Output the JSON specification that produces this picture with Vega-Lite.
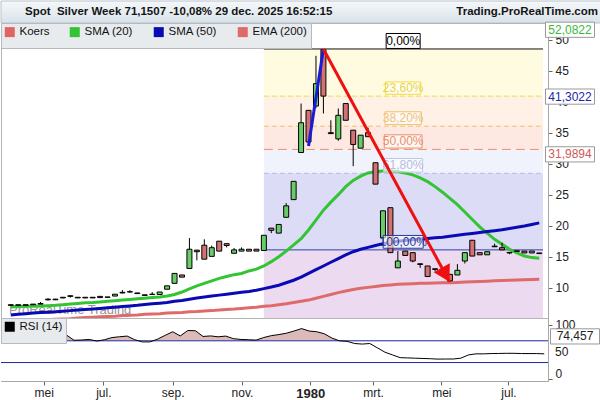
{
  "$schema": "https://vega.github.io/schema/vega-lite/v6.json",
  "padding": 0,
  "spacing": 0,
  "bounds": "flush",
  "background": "white",
  "config": {
    "font": "Liberation Sans",
    "view": {"stroke": null},
    "axis": {"grid": false, "labelFont": "Liberation Sans", "labelFontSize": 12, "labelColor": "#222222", "tickColor": "#666666", "domainColor": "#a8a8a8", "tickSize": 4, "labelOverlap": false},
    "legend": {"labelFont": "Liberation Sans", "labelFontSize": 11.5, "labelColor": "#111111", "padding": 3, "fillColor": "#e8ebee", "strokeColor": "#b4bac0", "symbolType": "square", "symbolSize": 25, "symbolStrokeWidth": 5, "symbolOpacity": 1, "columnPadding": 12, "offset": 0}
  },
  "resolve": {"scale": {"x": "independent", "y": "independent", "color": "independent"}, "legend": {"color": "independent"}},
  "datasets": {
    "header": [
      {"txt": "Spot\u00a0\u00a0Silver Week 71,1507 -10,08% 29 dec. 2025 16:52:15", "side": "left"},
      {"txt": "Trading.ProRealTime.com", "side": "right"}
    ],
    "bands": [
      {"band": "b1", "top": 48.5, "bottom": 40.9},
      {"band": "b2", "top": 40.9, "bottom": 36.05},
      {"band": "b3", "top": 36.05, "bottom": 32.3},
      {"band": "b4", "top": 32.3, "bottom": 28.45},
      {"band": "b5", "top": 28.45, "bottom": 16.1},
      {"band": "b6", "top": 16.1, "bottom": 5.0}
    ],
    "fib": [
      {"label": "0,00%", "level": 48.5},
      {"label": "23,60%", "level": 40.9},
      {"label": "38,20%", "level": 36.05},
      {"label": "50,00%", "level": 32.3},
      {"label": "61,80%", "level": 28.45},
      {"label": "100,00%", "level": 16.1}
    ],
    "tags": [
      {"txt": "52,0822", "v": 52.0822, "who": "s20"},
      {"txt": "41,3022", "v": 41.3022, "who": "s50"},
      {"txt": "31,9894", "v": 31.9894, "who": "e200"}
    ],
    "weeks": [
      {"d": "1979-03-26", "o": 7.25, "h": 7.3, "l": 7.15, "c": 7.15, "rsi": 65.5, "sma20": 6.9, "sma50": 5.6, "ema200": 4.6},
      {"d": "1979-04-02", "o": 7.15, "h": 7.25, "l": 7.15, "c": 7.25, "rsi": 66, "sma20": 6.95, "sma50": 5.7, "ema200": 4.65},
      {"d": "1979-04-09", "o": 7.25, "h": 7.25, "l": 7.15, "c": 7.15, "rsi": 66.5, "sma20": 7.0, "sma50": 5.8, "ema200": 4.7},
      {"d": "1979-04-16", "o": 7.25, "h": 7.35, "l": 7.25, "c": 7.35, "rsi": 67, "sma20": 7.0, "sma50": 5.9, "ema200": 4.75},
      {"d": "1979-04-23", "o": 7.35, "h": 7.7, "l": 7.35, "c": 7.45, "rsi": 70, "sma20": 7.05, "sma50": 6.0, "ema200": 4.8},
      {"d": "1979-04-30", "o": 8.15, "h": 8.3, "l": 7.9, "c": 8.05, "rsi": 74.5, "sma20": 7.1, "sma50": 6.05, "ema200": 4.85},
      {"d": "1979-05-07", "o": 8.05, "h": 8.2, "l": 8.0, "c": 8.15, "rsi": 76, "sma20": 7.15, "sma50": 6.1, "ema200": 4.9},
      {"d": "1979-05-14", "o": 8.45, "h": 8.5, "l": 8.3, "c": 8.35, "rsi": 78, "sma20": 7.25, "sma50": 6.2, "ema200": 4.95},
      {"d": "1979-05-21", "o": 8.6, "h": 8.7, "l": 8.4, "c": 8.7, "rsi": 80.5, "sma20": 7.35, "sma50": 6.3, "ema200": 5.0},
      {"d": "1979-05-28", "o": 8.45, "h": 8.5, "l": 8.35, "c": 8.35, "rsi": 71, "sma20": 7.45, "sma50": 6.4, "ema200": 5.1},
      {"d": "1979-06-04", "o": 8.35, "h": 8.5, "l": 8.3, "c": 8.45, "rsi": 71.5, "sma20": 7.55, "sma50": 6.5, "ema200": 5.2},
      {"d": "1979-06-11", "o": 8.45, "h": 8.45, "l": 8.35, "c": 8.35, "rsi": 72.5, "sma20": 7.6, "sma50": 6.55, "ema200": 5.25},
      {"d": "1979-06-18", "o": 8.6, "h": 8.6, "l": 8.4, "c": 8.4, "rsi": 69.5, "sma20": 7.7, "sma50": 6.65, "ema200": 5.3},
      {"d": "1979-06-25", "o": 8.45, "h": 8.5, "l": 8.45, "c": 8.5, "rsi": 72, "sma20": 7.8, "sma50": 6.75, "ema200": 5.35},
      {"d": "1979-07-02", "o": 8.65, "h": 8.95, "l": 8.65, "c": 8.95, "rsi": 76, "sma20": 7.9, "sma50": 6.85, "ema200": 5.4},
      {"d": "1979-07-09", "o": 9.25, "h": 9.6, "l": 9.1, "c": 9.15, "rsi": 77.5, "sma20": 8.0, "sma50": 6.95, "ema200": 5.5},
      {"d": "1979-07-16", "o": 9.3, "h": 9.6, "l": 9.25, "c": 9.35, "rsi": 78.7, "sma20": 8.1, "sma50": 7.05, "ema200": 5.55},
      {"d": "1979-07-23", "o": 9.15, "h": 9.15, "l": 9.05, "c": 9.05, "rsi": 72, "sma20": 8.2, "sma50": 7.15, "ema200": 5.6},
      {"d": "1979-07-30", "o": 8.85, "h": 8.85, "l": 8.75, "c": 8.75, "rsi": 68, "sma20": 8.3, "sma50": 7.3, "ema200": 5.7},
      {"d": "1979-08-06", "o": 8.9, "h": 9.3, "l": 8.85, "c": 8.95, "rsi": 68, "sma20": 8.4, "sma50": 7.4, "ema200": 5.75},
      {"d": "1979-08-13", "o": 8.9, "h": 9.3, "l": 8.9, "c": 9.3, "rsi": 73, "sma20": 8.5, "sma50": 7.5, "ema200": 5.8},
      {"d": "1979-08-20", "o": 9.75, "h": 10.3, "l": 9.75, "c": 10.3, "rsi": 80, "sma20": 8.65, "sma50": 7.6, "ema200": 5.9},
      {"d": "1979-08-27", "o": 10.7, "h": 12.3, "l": 10.7, "c": 12.3, "rsi": 86.7, "sma20": 8.9, "sma50": 7.8, "ema200": 5.95},
      {"d": "1979-09-03", "o": 12.05, "h": 12.05, "l": 11.7, "c": 11.7, "rsi": 79, "sma20": 9.3, "sma50": 7.95, "ema200": 6.0},
      {"d": "1979-09-10", "o": 13.1, "h": 18.0, "l": 13.1, "c": 16.2, "rsi": 89, "sma20": 9.8, "sma50": 8.15, "ema200": 6.1},
      {"d": "1979-09-17", "o": 16.05, "h": 16.1, "l": 14.4, "c": 15.8, "rsi": 88.5, "sma20": 10.3, "sma50": 8.35, "ema200": 6.15},
      {"d": "1979-09-24", "o": 16.85, "h": 17.8, "l": 14.6, "c": 14.6, "rsi": 78, "sma20": 10.7, "sma50": 8.5, "ema200": 6.25},
      {"d": "1979-10-01", "o": 15.05, "h": 16.8, "l": 15.05, "c": 16.45, "rsi": 79, "sma20": 11.1, "sma50": 8.65, "ema200": 6.3},
      {"d": "1979-10-08", "o": 17.5, "h": 17.5, "l": 15.9, "c": 15.9, "rsi": 77.4, "sma20": 11.5, "sma50": 8.8, "ema200": 6.4},
      {"d": "1979-10-15", "o": 17.1, "h": 17.1, "l": 16.5, "c": 16.8, "rsi": 78.7, "sma20": 11.8, "sma50": 8.95, "ema200": 6.5},
      {"d": "1979-10-22", "o": 15.55, "h": 16.4, "l": 15.55, "c": 16.1, "rsi": 74, "sma20": 12.1, "sma50": 9.1, "ema200": 6.55},
      {"d": "1979-10-29", "o": 15.9, "h": 16.5, "l": 15.9, "c": 16.2, "rsi": 72.5, "sma20": 12.3, "sma50": 9.25, "ema200": 6.65},
      {"d": "1979-11-05", "o": 16.2, "h": 16.2, "l": 15.9, "c": 15.9, "rsi": 72, "sma20": 12.7, "sma50": 9.4, "ema200": 6.75},
      {"d": "1979-11-12", "o": 16.2, "h": 16.2, "l": 15.9, "c": 15.9, "rsi": 71.3, "sma20": 13.0, "sma50": 9.6, "ema200": 6.85},
      {"d": "1979-11-19", "o": 16.0, "h": 18.45, "l": 15.95, "c": 18.45, "rsi": 76, "sma20": 13.5, "sma50": 9.85, "ema200": 7.0},
      {"d": "1979-11-26", "o": 19.6, "h": 19.6, "l": 18.8, "c": 19.25, "rsi": 79.5, "sma20": 14.2, "sma50": 10.1, "ema200": 7.1},
      {"d": "1979-12-03", "o": 18.8, "h": 20.2, "l": 18.8, "c": 20.2, "rsi": 81.5, "sma20": 15.0, "sma50": 10.4, "ema200": 7.25},
      {"d": "1979-12-10", "o": 21.35, "h": 23.65, "l": 21.35, "c": 23.2, "rsi": 84, "sma20": 15.9, "sma50": 10.8, "ema200": 7.4},
      {"d": "1979-12-17", "o": 24.2, "h": 27.15, "l": 24.2, "c": 27.15, "rsi": 88, "sma20": 16.9, "sma50": 11.2, "ema200": 7.6},
      {"d": "1979-12-24", "o": 31.8, "h": 39.7, "l": 31.8, "c": 36.6, "rsi": 92.5, "sma20": 17.9, "sma50": 11.7, "ema200": 7.8},
      {"d": "1979-12-31", "o": 38.6, "h": 38.6, "l": 33.3, "c": 33.5, "rsi": 88, "sma20": 19.3, "sma50": 12.3, "ema200": 8.0},
      {"d": "1980-01-07", "o": 39.3, "h": 47.4, "l": 39.0, "c": 42.9, "rsi": 86.7, "sma20": 20.9, "sma50": 12.9, "ema200": 8.3},
      {"d": "1980-01-14", "o": 48.4, "h": 48.5, "l": 38.1, "c": 40.9, "rsi": 83, "sma20": 22.5, "sma50": 13.5, "ema200": 8.6},
      {"d": "1980-01-21", "o": 35.0, "h": 37.0, "l": 34.8, "c": 34.85, "rsi": 75, "sma20": 23.8, "sma50": 14.1, "ema200": 8.9},
      {"d": "1980-01-28", "o": 34.0, "h": 38.9, "l": 33.7, "c": 37.8, "rsi": 70, "sma20": 25.0, "sma50": 14.7, "ema200": 9.2},
      {"d": "1980-02-04", "o": 39.7, "h": 39.7, "l": 37.0, "c": 37.0, "rsi": 69, "sma20": 26.3, "sma50": 15.3, "ema200": 9.45},
      {"d": "1980-02-11", "o": 35.4, "h": 35.4, "l": 29.6, "c": 33.1, "rsi": 65, "sma20": 27.3, "sma50": 15.8, "ema200": 9.7},
      {"d": "1980-02-18", "o": 32.5, "h": 34.6, "l": 32.5, "c": 34.6, "rsi": 64, "sma20": 28.0, "sma50": 16.2, "ema200": 9.9},
      {"d": "1980-02-25", "o": 35.0, "h": 35.8, "l": 34.35, "c": 34.35, "rsi": 65, "sma20": 28.5, "sma50": 16.5, "ema200": 10.05},
      {"d": "1980-03-03", "o": 30.15, "h": 30.15, "l": 26.7, "c": 26.7, "rsi": 57, "sma20": 28.7, "sma50": 16.8, "ema200": 10.2},
      {"d": "1980-03-10", "o": 18.05, "h": 22.4, "l": 18.05, "c": 22.4, "rsi": 49, "sma20": 28.8, "sma50": 17.1, "ema200": 10.35},
      {"d": "1980-03-17", "o": 22.9, "h": 22.9, "l": 15.65, "c": 15.65, "rsi": 44, "sma20": 28.8, "sma50": 17.3, "ema200": 10.45},
      {"d": "1980-03-24", "o": 13.2, "h": 15.9, "l": 13.2, "c": 14.3, "rsi": 39, "sma20": 28.7, "sma50": 17.5, "ema200": 10.55},
      {"d": "1980-03-31", "o": 15.9, "h": 15.9, "l": 15.2, "c": 15.2, "rsi": 38.5, "sma20": 28.5, "sma50": 17.6, "ema200": 10.6},
      {"d": "1980-04-07", "o": 15.65, "h": 15.65, "l": 14.1, "c": 14.3, "rsi": 38, "sma20": 28.2, "sma50": 17.75, "ema200": 10.65},
      {"d": "1980-04-14", "o": 13.85, "h": 13.9, "l": 13.2, "c": 13.75, "rsi": 37.5, "sma20": 27.7, "sma50": 17.85, "ema200": 10.7},
      {"d": "1980-04-21", "o": 13.5, "h": 13.5, "l": 11.8, "c": 11.8, "rsi": 37, "sma20": 27.1, "sma50": 17.95, "ema200": 10.72},
      {"d": "1980-04-28", "o": 13.05, "h": 13.05, "l": 12.6, "c": 12.95, "rsi": 36.3, "sma20": 26.3, "sma50": 18.05, "ema200": 10.75},
      {"d": "1980-05-05", "o": 12.6, "h": 12.7, "l": 12.3, "c": 12.4, "rsi": 36.5, "sma20": 25.4, "sma50": 18.15, "ema200": 10.78},
      {"d": "1980-05-12", "o": 12.15, "h": 12.15, "l": 11.0, "c": 11.1, "rsi": 36.5, "sma20": 24.4, "sma50": 18.3, "ema200": 10.8},
      {"d": "1980-05-19", "o": 12.05, "h": 13.8, "l": 12.05, "c": 12.8, "rsi": 38, "sma20": 23.4, "sma50": 18.45, "ema200": 10.85},
      {"d": "1980-05-26", "o": 14.3, "h": 15.65, "l": 13.9, "c": 15.65, "rsi": 44, "sma20": 22.2, "sma50": 18.6, "ema200": 10.9},
      {"d": "1980-06-02", "o": 17.65, "h": 17.65, "l": 15.1, "c": 15.1, "rsi": 46, "sma20": 21.0, "sma50": 18.75, "ema200": 10.95},
      {"d": "1980-06-09", "o": 15.65, "h": 15.65, "l": 15.3, "c": 15.3, "rsi": 46, "sma20": 19.8, "sma50": 18.9, "ema200": 11.0},
      {"d": "1980-06-16", "o": 15.3, "h": 15.8, "l": 15.3, "c": 15.8, "rsi": 46.5, "sma20": 18.8, "sma50": 19.05, "ema200": 11.05},
      {"d": "1980-06-23", "o": 16.7, "h": 17.1, "l": 16.6, "c": 16.6, "rsi": 46.7, "sma20": 17.8, "sma50": 19.2, "ema200": 11.1},
      {"d": "1980-06-30", "o": 16.45, "h": 17.25, "l": 16.1, "c": 16.1, "rsi": 47, "sma20": 17.0, "sma50": 19.35, "ema200": 11.15},
      {"d": "1980-07-07", "o": 15.7, "h": 15.7, "l": 15.4, "c": 15.6, "rsi": 47, "sma20": 16.2, "sma50": 19.55, "ema200": 11.2},
      {"d": "1980-07-14", "o": 15.95, "h": 15.95, "l": 15.85, "c": 15.85, "rsi": 46.5, "sma20": 15.6, "sma50": 19.75, "ema200": 11.25},
      {"d": "1980-07-21", "o": 15.9, "h": 15.9, "l": 15.6, "c": 15.6, "rsi": 46.5, "sma20": 15.1, "sma50": 19.95, "ema200": 11.28},
      {"d": "1980-07-28", "o": 15.6, "h": 15.9, "l": 15.6, "c": 15.9, "rsi": 46.5, "sma20": 14.85, "sma50": 20.2, "ema200": 11.32},
      {"d": "1980-08-04", "o": 15.6, "h": 15.6, "l": 15.5, "c": 15.5, "rsi": 46, "sma20": 14.75, "sma50": 20.45, "ema200": 11.35}
    ]
  },
  "vconcat": [
    {
      "width": 600,
      "height": 22,
      "layer": [
        {
          "data": {"values": [{"a": 0}]},
          "mark": {"type": "rect", "color": {"gradient": "linear", "x1": 0, "y1": 0, "x2": 0, "y2": 1, "stops": [{"offset": 0, "color": "#f5f8fa"}, {"offset": 1, "color": "#d9e2ea"}]}, "stroke": "#b9c3cc", "strokeWidth": 1},
          "encoding": {
            "x": {"datum": 0, "type": "quantitative", "scale": {"domain": [0, 1]}, "axis": null},
            "x2": {"datum": 1},
            "y": {"datum": 0, "type": "quantitative", "scale": {"domain": [0, 1]}, "axis": null},
            "y2": {"datum": 1}
          }
        },
        {
          "data": {"name": "header"},
          "transform": [{"filter": "datum.side == 'left'"}],
          "mark": {"type": "text", "align": "left", "baseline": "middle", "dx": 24, "fontSize": 11.5, "fontWeight": "bold", "color": "#151515"},
          "encoding": {
            "x": {"datum": 0, "type": "quantitative", "axis": null},
            "y": {"datum": 0.5, "type": "quantitative", "axis": null},
            "text": {"field": "txt"}
          }
        },
        {
          "data": {"name": "header"},
          "transform": [{"filter": "datum.side == 'right'"}],
          "mark": {"type": "text", "align": "right", "baseline": "middle", "dx": -3, "fontSize": 11.5, "fontWeight": "bold", "color": "#151515"},
          "encoding": {
            "x": {"datum": 1, "type": "quantitative", "axis": null},
            "y": {"datum": 0.5, "type": "quantitative", "axis": null},
            "text": {"field": "txt"}
          }
        }
      ]
    },
    {
      "width": 547,
      "height": 295,
      "view": {"stroke": "#b4b4b4"},
      "resolve": {"scale": {"fill": "independent", "stroke": "independent", "shape": "independent", "size": "independent", "strokeDash": "independent"}},
      "layer": [
        {
          "data": {"name": "bands"},
          "mark": {"type": "rect", "clip": true},
          "encoding": {
            "x": {"datum": {"year": 1979, "month": 11, "date": 19, "utc": true}, "type": "temporal", "scale": {"type": "utc", "domain": [{"year": 1979, "month": 3, "date": 21, "hours": 12, "utc": true}, {"year": 1980, "month": 8, "date": 7, "hours": 12, "utc": true}]}, "axis": null},
            "x2": {"datum": {"year": 1980, "month": 8, "date": 7, "hours": 12, "utc": true}},
            "y": {"field": "top", "type": "quantitative", "title": null, "scale": {"domain": [5.11, 52.69], "nice": false, "zero": false}, "axis": {"orient": "right", "values": [10, 15, 20, 25, 30, 35, 40, 45, 50], "tickCount": 10, "labelOverlap": false, "labelPadding": 3, "title": null}},
            "y2": {"field": "bottom"},
            "fill": {"field": "band", "type": "nominal", "scale": {"domain": ["b1", "b2", "b3", "b4", "b5", "b6"], "range": ["#fffbe0", "#fff1e5", "#fde8e2", "#f0f2fc", "#dddcf6", "#ecdaf0"]}, "legend": null}
          }
        },
        {
          "data": {"name": "fib"},
          "mark": {"type": "rule", "strokeWidth": 1},
          "encoding": {
            "x": {"datum": {"year": 1979, "month": 11, "date": 19, "utc": true}, "type": "temporal", "axis": null},
            "x2": {"datum": {"year": 1980, "month": 8, "date": 7, "hours": 12, "utc": true}},
            "y": {"field": "level", "type": "quantitative", "title": null},
            "stroke": {"field": "label", "type": "nominal", "scale": {"domain": ["0,00%", "23,60%", "38,20%", "50,00%", "61,80%", "100,00%"], "range": ["#000000", "#f0dc40", "#f3c070", "#ea9070", "#b8bce6", "#2030a0"]}, "legend": null},
            "strokeDash": {"field": "label", "type": "nominal", "scale": {"domain": ["0,00%", "23,60%", "38,20%", "50,00%", "61,80%", "100,00%"], "range": [[1, 0], [5, 3], [5, 3], [9, 5], [5, 3], [1, 0]]}, "legend": null}
          }
        },
        {
          "data": {"values": [{"t": "ProRealTime Trading"}]},
          "mark": {"type": "text", "align": "left", "baseline": "bottom", "dx": 3, "dy": -1, "fontSize": 13, "color": "#6a6a6a", "opacity": 0.7},
          "encoding": {
            "x": {"datum": {"year": 1979, "month": 3, "date": 21, "hours": 12, "utc": true}, "type": "temporal", "axis": null},
            "y": {"datum": 5.11, "type": "quantitative", "title": null},
            "text": {"field": "t"}
          }
        },
        {
          "data": {"name": "weeks"},
          "transform": [{"fold": ["sma20", "sma50", "ema200"], "as": ["key", "val"]}],
          "mark": {"type": "line", "clip": true},
          "encoding": {
            "x": {"field": "d", "type": "temporal", "axis": null},
            "y": {"field": "val", "type": "quantitative", "title": null},
            "strokeWidth": {"value": 3},
            "color": {
              "field": "key", "type": "nominal",
              "scale": {"domain": ["Koers", "sma20", "sma50", "ema200"], "range": ["#e06464", "#33c433", "#0a0ab4", "#de6a6a"]},
              "legend": {"orient": "top-left", "direction": "horizontal", "title": null, "labelExpr": "datum.label == 'sma20' ? 'SMA (20)' : datum.label == 'sma50' ? 'SMA (50)' : datum.label == 'ema200' ? 'EMA (200)' : datum.label"}
            }
          }
        },
        {
          "data": {"name": "weeks"},
          "mark": {"type": "rule", "color": "#000000", "strokeWidth": 1},
          "encoding": {
            "x": {"field": "d", "type": "temporal", "axis": null},
            "y": {"field": "l", "type": "quantitative", "title": null},
            "y2": {"field": "h"}
          }
        },
        {
          "data": {"name": "weeks"},
          "mark": {"type": "bar", "width": 5, "stroke": "#000000", "strokeWidth": 1},
          "encoding": {
            "x": {"field": "d", "type": "temporal", "axis": null},
            "y": {"field": "o", "type": "quantitative", "title": null},
            "y2": {"field": "c"},
            "fill": {"condition": {"test": "datum.c >= datum.o", "value": "#68cc68"}, "value": "#d27272"}
          }
        },
        {
          "data": {"values": [{"d": "1979-12-31", "v": 32.85}, {"d": "1980-01-14", "v": 48.5}]},
          "mark": {"type": "line", "color": "#1a1ad8", "strokeWidth": 3},
          "encoding": {
            "x": {"field": "d", "type": "temporal", "axis": null},
            "y": {"field": "v", "type": "quantitative", "title": null}
          }
        },
        {
          "data": {"name": "fib"},
          "mark": {"type": "point", "filled": true, "fill": "#ffffff", "fillOpacity": 0.6, "strokeWidth": 1, "yOffset": -8, "opacity": 1},
          "encoding": {
            "x": {"datum": {"year": 1980, "month": 3, "date": 29, "utc": true}, "type": "temporal", "axis": null},
            "y": {"field": "level", "type": "quantitative", "title": null},
            "shape": {"field": "label", "type": "nominal", "scale": {"domain": ["0,00%", "23,60%", "38,20%", "50,00%", "61,80%", "100,00%"], "range": ["M-1,-0.44H1V0.44H-1Z", "M-1,-0.35H1V0.35H-1Z", "M-1,-0.35H1V0.35H-1Z", "M-1,-0.35H1V0.35H-1Z", "M-1,-0.35H1V0.35H-1Z", "M-1,-0.32H1V0.32H-1Z"]}, "legend": null},
            "size": {"field": "label", "type": "ordinal", "scale": {"domain": ["0,00%", "23,60%", "38,20%", "50,00%", "61,80%", "100,00%"], "range": [1156, 1600, 1600, 1600, 1600, 2209]}, "legend": null},
            "stroke": {"field": "label", "type": "nominal", "scale": {"domain": ["0,00%", "23,60%", "38,20%", "50,00%", "61,80%", "100,00%"], "range": ["#000000", "#f0dc40", "#f3c070", "#ea9070", "#c0c6e6", "#2a3a9a"]}, "legend": null}
          }
        },
        {
          "data": {"name": "fib"},
          "mark": {"type": "text", "dy": -8, "fontSize": 12, "baseline": "middle", "align": "center"},
          "encoding": {
            "x": {"datum": {"year": 1980, "month": 3, "date": 29, "utc": true}, "type": "temporal", "axis": null},
            "y": {"field": "level", "type": "quantitative", "title": null},
            "text": {"field": "label"},
            "fill": {"field": "label", "type": "nominal", "scale": {"domain": ["0,00%", "23,60%", "38,20%", "50,00%", "61,80%", "100,00%"], "range": ["#000000", "#e6d44a", "#eec27a", "#e8906e", "#b4bce0", "#2a3a9a"]}, "legend": null}
          }
        },
        {
          "data": {"values": [{"d": "1980-01-14", "v": 48.5}, {"d": "1980-05-11T12:00:00Z", "v": 10.97}]},
          "mark": {"type": "line", "color": "#ee1010", "strokeWidth": 3},
          "encoding": {
            "x": {"field": "d", "type": "temporal", "axis": null},
            "y": {"field": "v", "type": "quantitative", "title": null}
          }
        },
        {
          "data": {"values": [{"d": "1980-05-07T22:00:00Z", "v": 12.1}]},
          "mark": {"type": "point", "shape": "triangle-down", "size": 340, "filled": true, "color": "#ee1010", "angle": 331, "opacity": 1},
          "encoding": {
            "x": {"field": "d", "type": "temporal", "axis": null},
            "y": {"field": "v", "type": "quantitative", "title": null}
          }
        },
        {
          "data": {"name": "tags"},
          "mark": {"type": "point", "shape": "M-1,-0.31H1V0.31H-1Z", "size": 2401, "filled": true, "fill": "#ffffff", "stroke": "#9a9a9a", "strokeWidth": 1, "xOffset": 27, "yOffset": 3, "opacity": 1},
          "encoding": {
            "x": {"datum": {"year": 1980, "month": 8, "date": 7, "hours": 12, "utc": true}, "type": "temporal", "axis": null},
            "y": {"field": "v", "type": "quantitative", "title": null}
          }
        },
        {
          "data": {"name": "tags"},
          "mark": {"type": "text", "dx": 27, "dy": 3, "fontSize": 12, "align": "center", "baseline": "middle"},
          "encoding": {
            "x": {"datum": {"year": 1980, "month": 8, "date": 7, "hours": 12, "utc": true}, "type": "temporal", "axis": null},
            "y": {"field": "v", "type": "quantitative", "title": null},
            "text": {"field": "txt"},
            "fill": {"field": "who", "type": "nominal", "scale": {"domain": ["s20", "s50", "e200"], "range": ["#3cb83c", "#2424a8", "#d05a5a"]}, "legend": null}
          }
        }
      ]
    },
    {
      "width": 547,
      "height": 63,
      "view": {"stroke": "#b4b4b4"},
      "layer": [
        {
          "data": {"name": "weeks"},
          "mark": {"type": "area", "color": "#dcbaba", "clip": true},
          "encoding": {
            "x": {
              "field": "d", "type": "temporal", "title": null,
              "scale": {"type": "utc", "domain": [{"year": 1979, "month": 3, "date": 21, "hours": 12, "utc": true}, {"year": 1980, "month": 8, "date": 7, "hours": 12, "utc": true}]},
              "axis": {
                "title": null,
                "labelOverlap": false,
                "values": [
                  {"year": 1979, "month": 4, "date": 30, "utc": true},
                  {"year": 1979, "month": 6, "date": 24, "utc": true},
                  {"year": 1979, "month": 8, "date": 27, "utc": true},
                  {"year": 1979, "month": 10, "date": 30, "utc": true},
                  {"year": 1980, "month": 1, "date": 1, "utc": true},
                  {"year": 1980, "month": 2, "date": 28, "utc": true},
                  {"year": 1980, "month": 5, "date": 1, "utc": true},
                  {"year": 1980, "month": 7, "date": 2, "utc": true}
                ],
                "labelExpr": "utcmonth(datum.value + 864000000) == 0 ? '' + utcyear(datum.value + 864000000) : ['jan.','feb.','mrt.','apr.','mei','jun.','jul.','aug.','sep.','okt.','nov.','dec.'][utcmonth(datum.value + 864000000)]",
                "labelFontWeight": {"condition": {"test": "utcmonth(datum.value + 864000000) == 0", "value": "bold"}, "value": "normal"},
                "labelFontSize": {"condition": {"test": "utcmonth(datum.value + 864000000) == 0", "value": 13}, "value": 12},
                "labelPadding": 2
              }
            },
            "y": {
              "field": "rsi", "type": "quantitative", "title": null,
              "scale": {"domain": [-4, 112], "nice": false, "zero": false},
              "axis": {"orient": "right", "title": null, "values": [0, 50, 100], "labelOverlap": false, "labelPadding": 3, "labelOffset": {"condition": {"test": "datum.value == 0", "value": -5}, "value": 0}}
            },
            "y2": {"datum": 70}
          }
        },
        {
          "data": {"values": [{"a": 0}]},
          "mark": {"type": "rect", "color": "#ffffff"},
          "encoding": {
            "x": {"datum": {"year": 1979, "month": 3, "date": 21, "hours": 12, "utc": true}, "type": "temporal", "title": null},
            "x2": {"datum": {"year": 1980, "month": 8, "date": 7, "hours": 12, "utc": true}},
            "y": {"datum": 70, "type": "quantitative", "title": null},
            "y2": {"datum": -4}
          }
        },
        {
          "data": {"values": [{"lv": 70}, {"lv": 30}]},
          "mark": {"type": "rule", "color": "#1f2a9c", "strokeWidth": 1},
          "encoding": {
            "y": {"field": "lv", "type": "quantitative", "title": null}
          }
        },
        {
          "data": {"name": "weeks"},
          "mark": {"type": "line", "clip": true},
          "encoding": {
            "x": {"field": "d", "type": "temporal", "title": null},
            "y": {"field": "rsi", "type": "quantitative", "title": null},
            "strokeWidth": {"value": 1},
            "color": {"datum": "RSI (14)", "scale": {"range": ["#000000"]}, "legend": {"orient": "top-left", "title": null}}
          }
        },
        {
          "data": {"values": [{"t": "50", "v": 50}]},
          "mark": {"type": "text", "align": "left", "baseline": "middle", "dx": 7, "fontSize": 12, "color": "#222222"},
          "encoding": {
            "x": {"datum": {"year": 1980, "month": 8, "date": 7, "hours": 12, "utc": true}, "type": "temporal", "title": null},
            "y": {"field": "v", "type": "quantitative", "title": null},
            "text": {"field": "t"}
          }
        },
        {
          "data": {"values": [{"txt": "74,457", "v": 74.457}]},
          "mark": {"type": "point", "shape": "M-1,-0.31H1V0.31H-1Z", "size": 2401, "filled": true, "fill": "#ffffff", "stroke": "#9a9a9a", "strokeWidth": 1, "xOffset": 27, "yOffset": -2, "opacity": 1},
          "encoding": {
            "x": {"datum": {"year": 1980, "month": 8, "date": 7, "hours": 12, "utc": true}, "type": "temporal", "title": null},
            "y": {"field": "v", "type": "quantitative", "title": null}
          }
        },
        {
          "data": {"values": [{"txt": "74,457", "v": 74.457}]},
          "mark": {"type": "text", "dx": 27, "dy": -2, "fontSize": 12, "align": "center", "baseline": "middle", "color": "#222222"},
          "encoding": {
            "x": {"datum": {"year": 1980, "month": 8, "date": 7, "hours": 12, "utc": true}, "type": "temporal", "title": null},
            "y": {"field": "v", "type": "quantitative", "title": null},
            "text": {"field": "txt"}
          }
        }
      ]
    }
  ]
}
